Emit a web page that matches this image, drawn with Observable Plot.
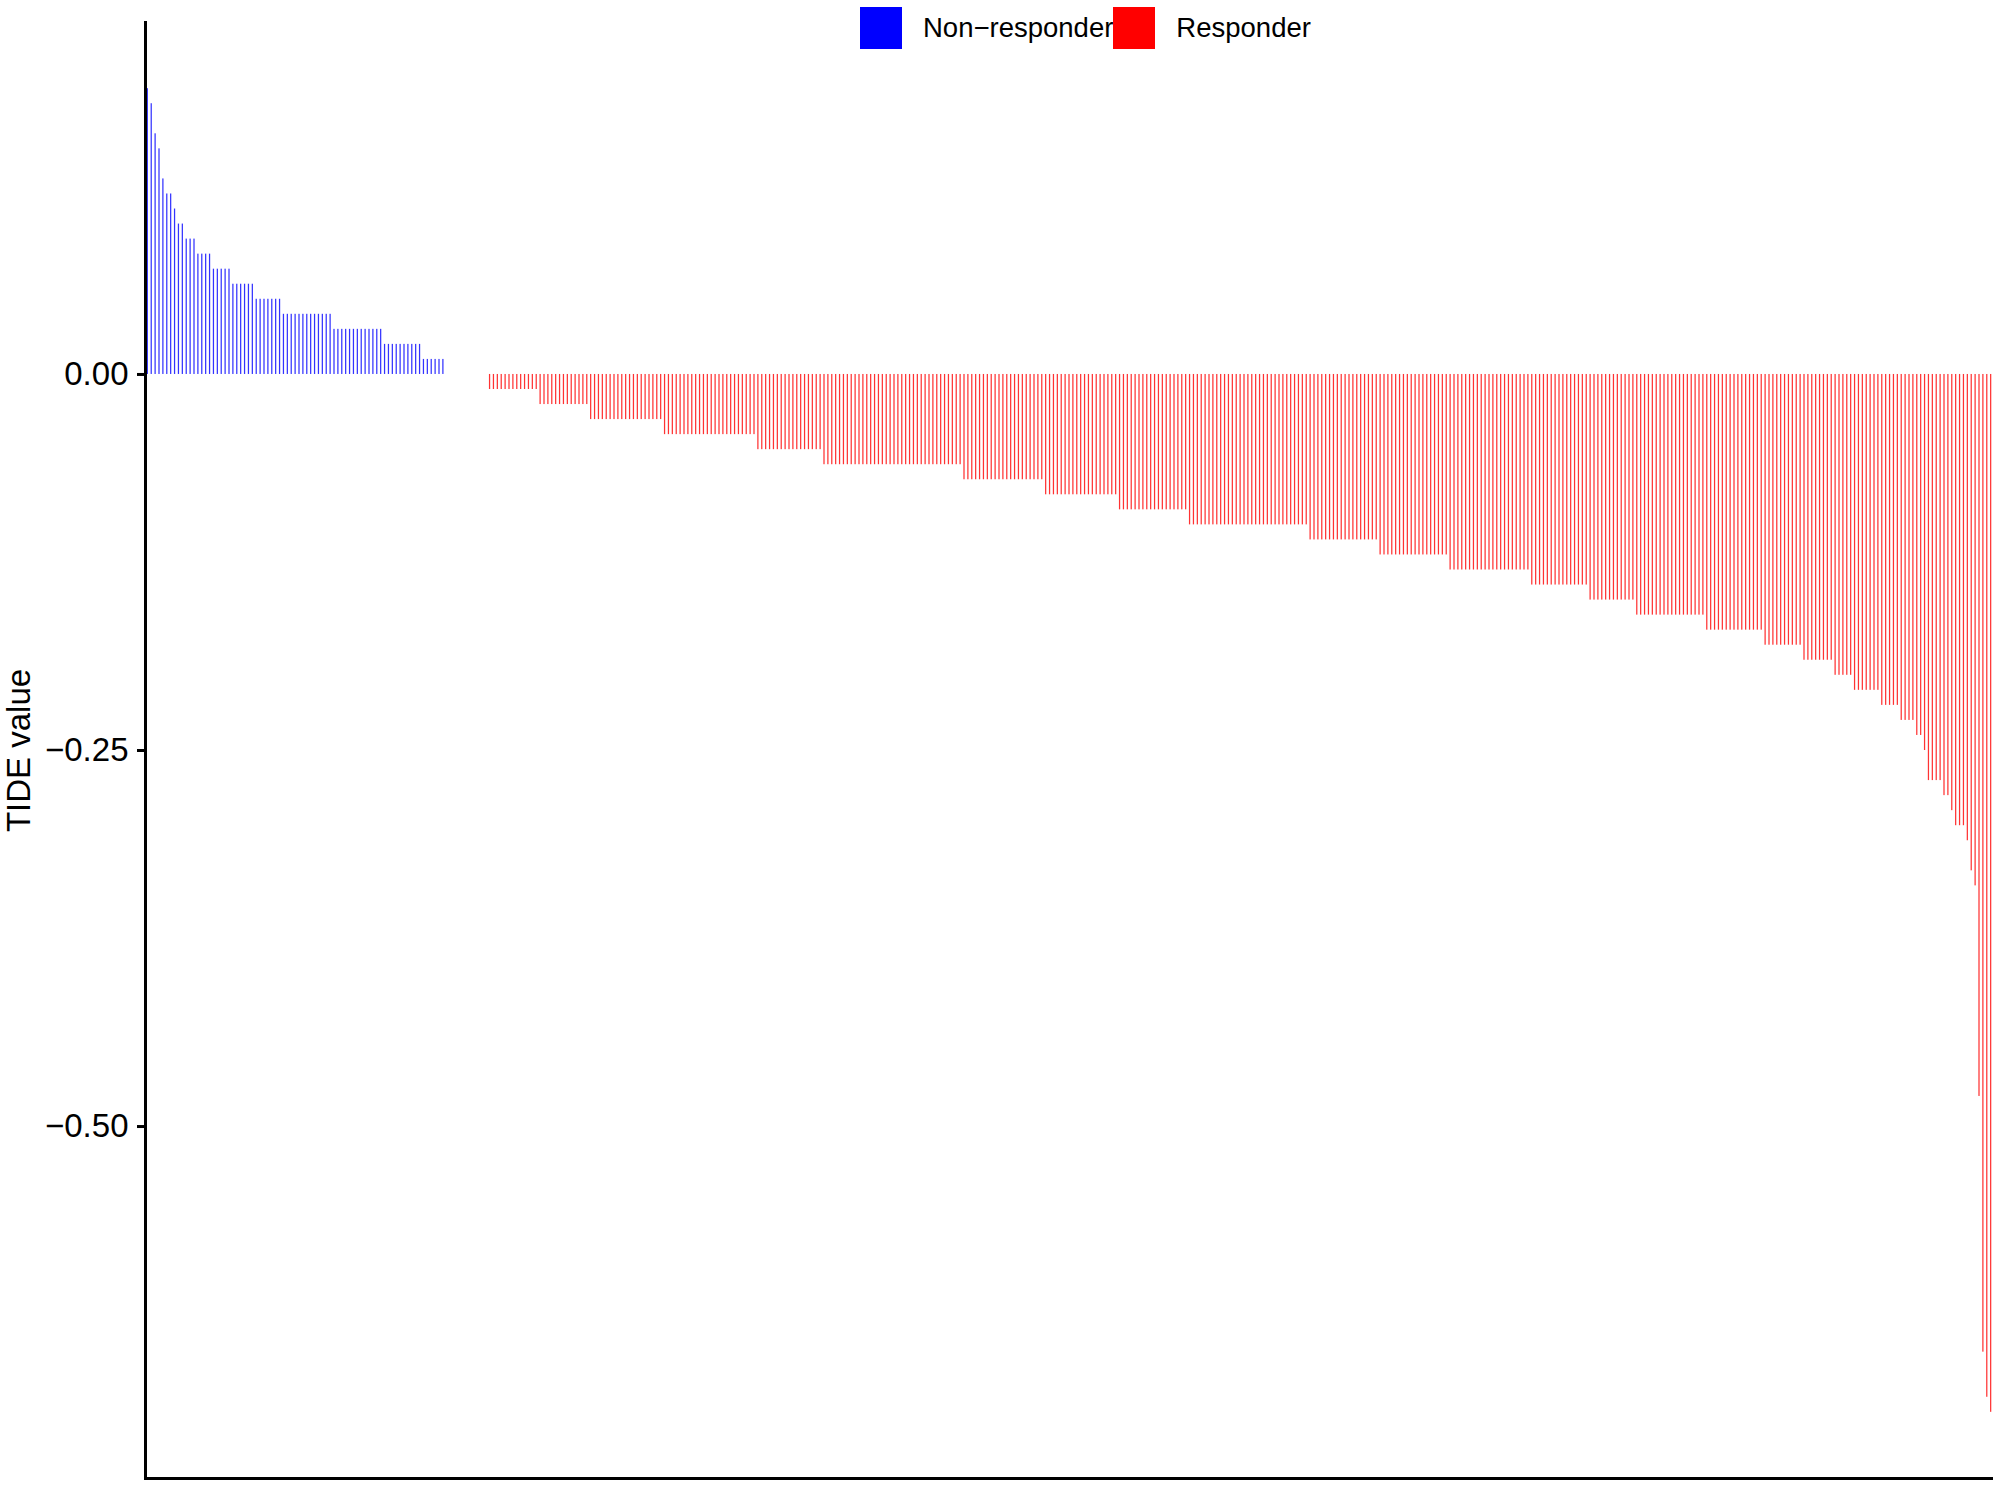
<!DOCTYPE html>
<html>
<head>
<meta charset="utf-8">
<script src="https://cdn.jsdelivr.net/npm/d3@7"></script>
<script src="https://cdn.jsdelivr.net/npm/@observablehq/plot@0.6"></script>
<style>
  html, body { margin: 0; padding: 0; background: #fff; }
  #wrap { position: relative; width: 2000px; height: 1488px; font-family: "Liberation Sans", Arial, Helvetica, sans-serif; }
  #legend { position: absolute; top: 7px; left: 860px; display: flex; align-items: center; font-size: 27.5px; color: #000; z-index: 2; }
  #legend .sw { width: 42px; height: 42px; margin-right: 21px; flex: none; }
  #legend .lab { white-space: nowrap; line-height: 42px; }
  #chart { position: absolute; top: 0; left: 0; }
</style>
</head>
<body>
<div id="wrap">
  <div id="chart"></div>
  <div id="legend"></div>
</div>
<script>
// ---- Data (TIDE value per sample, sorted) ----
const groups = ["Non\u2212responder", "Responder"];
const groupColors = ["#0000FF", "#FF0000"];

// Non-responders: TIDE level and number of samples at that level
const nonResponderLevels = [0.19, 0.18, 0.16, 0.15, 0.13, 0.12, 0.11, 0.10, 0.09, 0.08, 0.07, 0.06, 0.05, 0.04, 0.03, 0.02, 0.01];
const nonResponderCounts = [1, 1, 1, 1, 1, 2, 1, 2, 3, 4, 5, 6, 7, 13, 13, 10, 6];

// Samples with TIDE value ~0 (no visible bar)
const zeroLevels = [0.00];
const zeroCounts = [11];

// Responders: TIDE level and number of samples at that level
const responderLevels = [-0.01, -0.02, -0.03, -0.04, -0.05, -0.06, -0.07, -0.08, -0.09, -0.10,
                         -0.11, -0.12, -0.13, -0.14, -0.15, -0.16, -0.17, -0.18, -0.19, -0.20,
                         -0.21, -0.22, -0.23, -0.24, -0.25, -0.27, -0.28, -0.29, -0.30, -0.31,
                         -0.33, -0.34, -0.48, -0.65, -0.68, -0.69];
const responderCounts = [13, 13, 19, 24, 17, 36, 21, 19, 18, 31,
                         18, 18, 21, 15, 12, 18, 15, 10, 8, 5,
                         7, 5, 4, 2, 1, 4, 2, 1, 3, 1,
                         1, 1, 1, 1, 1, 1];

const yTicks = [0, -0.25, -0.50];
const yDomain = [-0.734, 0.234];
const yLabel = "TIDE value";

// ---- Build the sample table ----
const data = [];
function addRuns(levels, counts, group) {
  levels.forEach((v, k) => {
    for (let j = 0; j < counts[k]; j++) {
      data.push({id: "S" + (data.length + 1), value: v, group});
    }
  });
}
addRuns(nonResponderLevels, nonResponderCounts, groups[0]);
addRuns(zeroLevels, zeroCounts, groups[1]);
addRuns(responderLevels, responderCounts, groups[1]);

const font = '"Liberation Sans", Arial, Helvetica, sans-serif';

const chart = Plot.plot({
  width: 2000,
  height: 1488,
  marginLeft: 145,
  marginRight: 7,
  marginTop: 22,
  marginBottom: 10,
  style: {fontFamily: font, color: "#000", background: "#fff", overflow: "visible"},
  x: {type: "band", domain: data.map(d => d.id), paddingInner: 0.68, paddingOuter: 0.44, axis: null},
  y: {domain: yDomain, label: null, axis: null},
  color: {domain: groups, range: groupColors},
  marks: [
    Plot.barY(data, {x: "id", y: "value", fill: "group", fillOpacity: 0.8}),
    Plot.axisY({ticks: yTicks, tickFormat: d3.format(".2f"), tickSize: 8, tickPadding: 9,
                strokeWidth: 3, stroke: "#000", fill: "#000", fontSize: 33, label: null}),
    Plot.ruleY([yDomain[0]], {stroke: "#000", strokeWidth: 3}),
    Plot.frame({anchor: "left", stroke: "#000", strokeWidth: 3}),
    Plot.text([yLabel], {frameAnchor: "left", textAnchor: "middle", rotate: -90, dx: -126, fontSize: 33, fill: "#000"})
  ]
});
document.getElementById("chart").appendChild(chart);

// ---- Legend (HTML, overlaid at the top) ----
const legend = document.getElementById("legend");
groups.forEach((g, i) => {
  const sw = document.createElement("span");
  sw.className = "sw";
  sw.style.background = groupColors[i];
  const lab = document.createElement("span");
  lab.className = "lab";
  lab.textContent = g;
  legend.appendChild(sw);
  legend.appendChild(lab);
});
</script>
</body>
</html>
